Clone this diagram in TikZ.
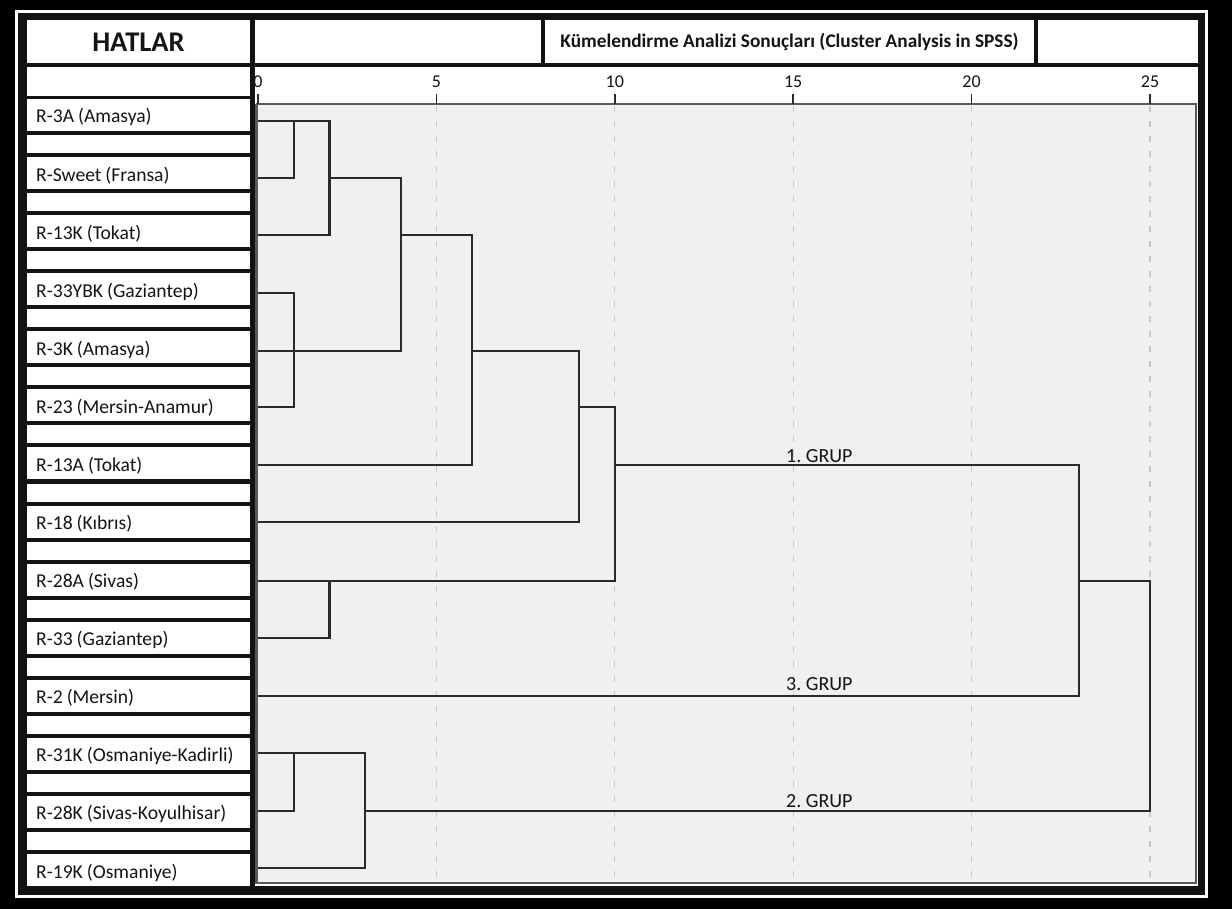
\documentclass[tikz,border=0pt]{standalone}
\usepackage{fontspec}
\setmainfont{Carlito}
\newfontfamily\labfont{Carlito}[WordSpace=0.9]
\frenchspacing
\definecolor{plotbg}{HTML}{F0F0F0}
\definecolor{linkc}{HTML}{2A2A2A}
\definecolor{gridc}{HTML}{C8C8C8}
\definecolor{framec}{HTML}{121212}
\definecolor{plotedge}{HTML}{5A5A5A}
\definecolor{txtc}{HTML}{141414}
\begin{document}
\begin{tikzpicture}[x=1pt,y=-1pt,
  link/.style={draw=linkc, line width=2.3pt, line join=miter},
  cellbox/.style={fill=white, draw=none, minimum width=223pt, inner sep=0pt, text=txtc},
  labelcell/.style={cellbox, minimum height=32pt},
  labtext/.style={anchor=base west, inner sep=0pt, text=txtc,
     font=\labfont\fontsize{19.6}{21}\selectfont\frenchspacing},
  gapcell/.style={cellbox, minimum height=18pt},
  ticklab/.style={font=\fontsize{18}{20}\selectfont, text=txtc, inner sep=0pt},
  grp/.style={font=\fontsize{20}{22}\selectfont\frenchspacing, text=txtc, inner sep=0pt, anchor=base west},
  gridline/.style={draw=gridc, line width=1.3pt, dash pattern=on 6pt off 9pt}
]
\useasboundingbox (0,0) rectangle (1232,909);
% outer frames
\fill[black] (0,0) rectangle (1232,909);
\fill[white] (15,10) rectangle (1208,898);
\fill[framec] (18,13) rectangle (1205,895);

% header cells
\node[cellbox, minimum height=43pt, font=\fontsize{28.5}{30}\selectfont\bfseries] (hatlar) at (138.5,42) {HATLAR};
\node[cellbox, minimum height=29pt] (hempty) at (138.5,81.5) {};
\fill[white] (255,20) rectangle (541,63);
\node[fill=white, minimum width=489pt, minimum height=43pt, inner sep=0pt, text=txtc,
  font=\fontsize{19.3}{21}\selectfont\bfseries] (title) at (789.5,41.5)
  {Kümelendirme Analizi Sonuçları (Cluster Analysis in SPSS)};
\fill[white] (1038,20) rectangle (1198,63);

% tick row and plot
\fill[white] (255,67) rectangle (1198,886);
\fill[plotbg] (258,104) rectangle (1196,883);
\foreach \u in {5,10,15,20,25}{
  \draw[gridline] ({258+35.68*\u},106) -- ({258+35.68*\u},882);
}
\draw[plotedge, line width=1.5pt] (257,104) rectangle (1196,883);
\draw[plotedge, line width=1pt] (255.5,104) -- (255.5,884);
\begin{scope}
\clip (255.5,67) rectangle (1198,104);
\foreach \u in {0,5,10,15,20,25}{
  \coordinate (t\u) at ({258+35.68*\u},104);
  \draw[linkc, line width=1.5pt] (t\u) -- ++(0,-10);
  \node[ticklab] (tl\u) at ({258+35.68*\u},82) {\u};
}
\end{scope}

% label cells
\foreach \i/\t in {0/{R-3A (Amasya)},1/{R-Sweet (Fransa)},2/{R-13K (Tokat)},3/{R-33YBK (Gaziantep)},
  4/{R-3K (Amasya)},5/{R-23 (Mersin-Anamur)},6/{R-13A (Tokat)},7/{R-18 (Kıbrıs)},
  8/{R-28A (Sivas)},9/{R-33 (Gaziantep)},10/{R-2 (Mersin)},11/{R-31K (Osmaniye-Kadirli)},
  12/{R-28K (Sivas-Koyulhisar)},13/{R-19K (Osmaniye)}}{
  \node[labelcell] (r\i) at (138.5,{115+58.08*\i}) {};
  \node[labtext] (n\i) at (36,{115+58.08*\i+8}) {\t};
}
\foreach \i in {0,...,12}{
  \node[gapcell] (s\i) at (138.5,{115+58.08*\i+29.04}) {};
}

% axis positions
\foreach \u in {1,2,3,4,6,9,10,23,25}{
  \coordinate (u\u) at ({258+35.68*\u},104);
}
% leaves
\foreach \k/\y in {1/121,2/178,3/235,4/293,5/351,6/407,7/465,8/522,9/581,10/638,11/696,12/753,13/811,14/868}{
  \coordinate (l\k) at (258,\y);
}

% dendrogram
\draw[link] (l1) -- (u2 |- l1) -- (u2 |- l3) -- (l3);
\draw[link] (u1 |- l1) -- (u1 |- l2) -- (l2);
\draw[link] (u2 |- l2) -- (u4 |- l2) -- (u4 |- l5) -- (l5);
\draw[link] (l4) -- (u1 |- l4) -- (u1 |- l6) -- (l6);
\draw[link] (u4 |- l3) -- (u6 |- l3) -- (u6 |- l7) -- (l7);
\draw[link] (u6 |- l5) -- (u9 |- l5) -- (u9 |- l8) -- (l8);
\draw[link] (u9 |- l6) -- (u10 |- l6) -- (u10 |- l9) -- (l9);
\draw[link] (u2 |- l9) -- (u2 |- l10) -- (l10);
\draw[link] (u10 |- l7) -- (u23 |- l7) -- (u23 |- l11) -- (l11);
\draw[link] (u23 |- l9) -- (u25 |- l9) -- (u25 |- l13) -- (u3 |- l13);
\draw[link] (l12) -- (u3 |- l12) -- (u3 |- l14) -- (l14);
\draw[link] (u1 |- l12) -- (u1 |- l13) -- (l13);

% group labels
\node[grp] (g1) at (786,462) {1. GRUP};
\node[grp] (g3) at (786,690) {3. GRUP};
\node[grp] (g2) at (786,807) {2. GRUP};
\end{tikzpicture}
\end{document}
